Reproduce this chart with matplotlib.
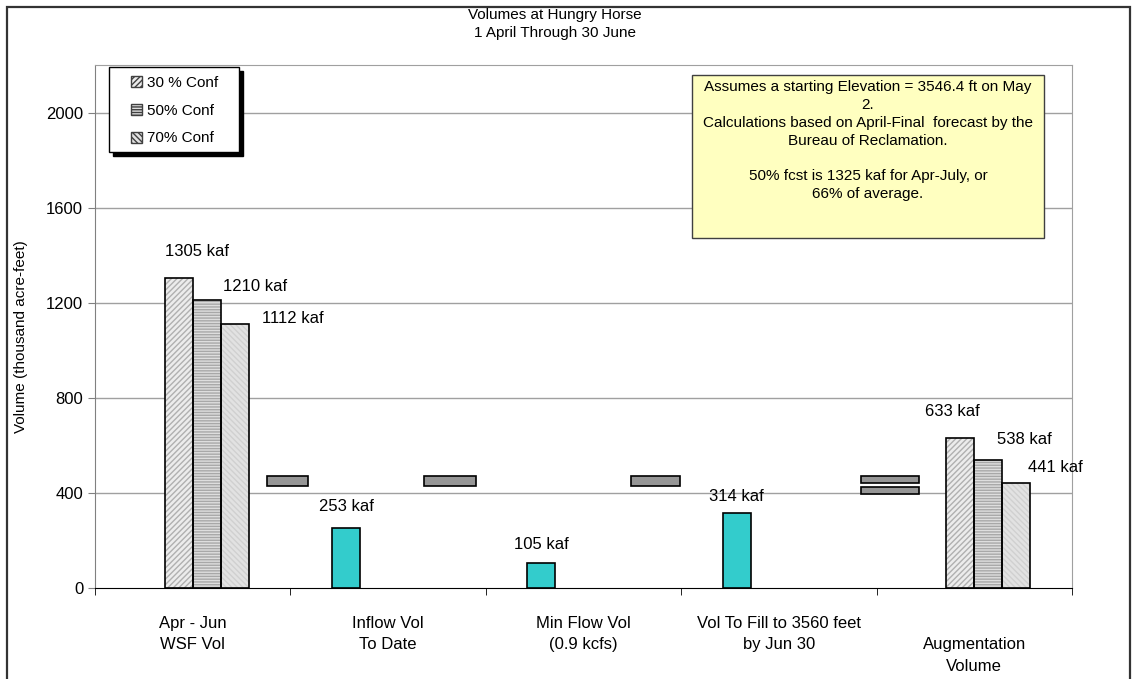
import numpy as np
import matplotlib
matplotlib.use("Agg")
import matplotlib.pyplot as plt
from matplotlib.patches import Patch, Rectangle

plt.rcParams['font.family'] = ['Liberation Sans', 'DejaVu Sans']

# data (kaf)
categories = ["Apr - Jun\nWSF Vol", "Inflow Vol\nTo Date", "Min Flow Vol\n(0.9 kcfs)",
              "Vol To Fill to 3560 feet\nby Jun 30", "\nAugmentation\nVolume"]
conf_30 = [1305, np.nan, np.nan, np.nan, 633]
conf_50 = [1210, np.nan, np.nan, np.nan, 538]
conf_70 = [1112, np.nan, np.nan, np.nan, 441]
step_vol = [np.nan, 253, 105, 314, np.nan]
legend_labels = ["30 % Conf", "50% Conf", "70% Conf"]
y_ticks = [0, 400, 800, 1200, 1600, 2000]

note = ("Assumes a starting Elevation = 3546.4 ft on May\n2.\n"
        "Calculations based on April-Final  forecast by the\nBureau of Reclamation.\n\n"
        "50% fcst is 1325 kaf for Apr-July, or\n66% of average.")

# hand placed "-" and "=" shapes between groups: (center, width, bottom, height)
operators = [(0.484, 0.21, 430, 42), (1.315, 0.266, 430, 42), (2.367, 0.25, 430, 42),
             (3.567, 0.297, 442, 30), (3.567, 0.297, 396, 29)]

fig = plt.figure(figsize=(11.37, 6.79), dpi=100)
ax = fig.add_axes([95 / 1137, 91 / 679, 977 / 1137, 523 / 679])

x = np.arange(len(categories))
w = 0.1435
styles = [
    (conf_30, -0.5, '#ececec', '//////', '#b0b0b0'),
    (conf_50, 0.5, '#dedede', '------', '#a8a8a8'),
    (conf_70, 1.5, '#e2e2e2', '\\\\\\\\\\\\', '#d0d0d0'),
]
for vals, off, fc, hatch, hc in styles:
    ax.bar(x + off * w, vals, w, color=fc, hatch=hatch, edgecolor=hc, linewidth=0, zorder=2)
    ax.bar(x + off * w, vals, w, fill=False, edgecolor='black', linewidth=1.2, zorder=3)
ax.bar(x - 1.5 * w, step_vol, w, color='#33CCCC', edgecolor='black', linewidth=1.2, zorder=3)

for cx, ow, ob, oh in operators:
    ax.bar(cx, oh, ow, bottom=ob, color='#969696', edgecolor='black', linewidth=1.2, zorder=3)

# value labels, offsets in pixels (dx, dy) as placed in the original
label_offsets = {0: [(18, 26), (48, 14), (58, 5)], 4: [(-8, 26), (36, 21), (39, 16)]}
for i, offs in label_offsets.items():
    for k, (vals, off, *_ ) in enumerate(styles):
        ax.annotate(f"{vals[i]:.0f} kaf", (x[i] + off * w, vals[i]), xytext=offs[k],
                    textcoords='offset pixels', ha='center', va='center', fontsize=12)
teal_dy = [0, 21, 19, 17, 0]
for i, v in enumerate(step_vol):
    if not np.isnan(v):
        ax.annotate(f"{v:.0f} kaf", (x[i] - 1.5 * w, v), xytext=(0, teal_dy[i]),
                    textcoords='offset pixels', ha='center', va='center', fontsize=12)

ax.set_xlim(-0.5, len(categories) - 0.5)
ax.set_ylim(0, 2200)
ax.set_yticks(y_ticks)
ax.tick_params(axis='y', labelsize=12, length=5, direction='out', color='#808080')
ax.set_xticks(x)
ax.set_xticklabels(categories, fontsize=12, linespacing=1.55)
ax.tick_params(axis='x', which='major', length=0, pad=20)
ax.set_xticks(np.arange(-0.5, len(categories)), minor=True)
ax.tick_params(axis='x', which='minor', length=5, direction='out', color='black')
for t in y_ticks[1:]:
    ax.axhline(t, color='#a0a0a0', linewidth=1, zorder=1)
ax.spines['top'].set_color('#a0a0a0')
ax.spines['right'].set_color('#a0a0a0')
ax.spines['left'].set_color('#808080')
ax.spines['bottom'].set_color('black')
ax.set_ylabel("Volume (thousand acre-feet)", fontsize=11)
ax.yaxis.set_label_coords(-67 / 977, 0.48)

fig.text(555 / 1137, 1 - 24 / 679, "Volumes at Hungry Horse\n1 April Through 30 June",
         ha='center', va='center', fontsize=11, linespacing=1.35)

# legend box with solid shadow, drawn by hand
lx, ly, lw, lh = 14 / 977, (588 - 152) / 523, 130 / 977, 85 / 523
ax.add_patch(Rectangle((lx + 4 / 977, ly - 4 / 523), lw, lh, transform=ax.transAxes,
                       facecolor='black', edgecolor='black', zorder=5))
ax.add_patch(Rectangle((lx, ly), lw, lh, transform=ax.transAxes,
                       facecolor='white', edgecolor='black', linewidth=1, zorder=5))
handles = [Patch(facecolor=s[2], hatch=s[3], edgecolor='#404040', linewidth=1) for s in styles]
leg = ax.legend(handles, legend_labels, loc='upper left',
                bbox_to_anchor=((131 - 95) / 977, (588 - 76) / 523),
                fontsize=11, frameon=False, borderpad=0, borderaxespad=0,
                labelspacing=0.9, handlelength=0.75, handleheight=0.75, handletextpad=0.3)
leg.set_zorder(6)

# note box
ax.add_patch(Rectangle(((692 - 95) / 977, (588 - 238) / 523), 352 / 977, 163 / 523,
                       transform=ax.transAxes, facecolor='#FFFFC0', edgecolor='#404040',
                       linewidth=1, zorder=5))
ax.text((868 - 95) / 977, (588 - 80) / 523, note, transform=ax.transAxes, ha='center',
        va='top', fontsize=11, linespacing=1.35, zorder=6)

fig.add_artist(Rectangle((7 / 1137, -0.1), 1123 / 1137, 1.1 - 7 / 679, transform=fig.transFigure,
                         fill=False, edgecolor='#333333', linewidth=1.6))

fig.savefig("out.png", dpi=100)
